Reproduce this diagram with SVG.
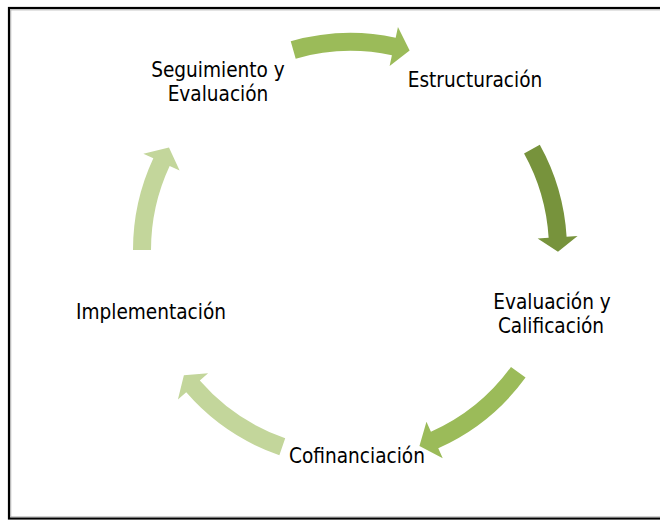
<svg xmlns="http://www.w3.org/2000/svg" width="660" height="521" viewBox="0 0 660 521">
<style>
.lbl{font-family:"DejaVu Sans Condensed","DejaVu Sans","Liberation Sans",sans-serif;font-stretch:condensed;font-size:20.6px;fill:#000;text-anchor:middle}
</style>
<rect x="0" y="0" width="660" height="521" fill="#fff"/>
<rect x="9" y="8" width="700" height="510.5" fill="none" stroke="#000" stroke-width="2.2"/>
<rect x="10.8" y="9.9" width="700" height="507" fill="none" stroke="#a0a0a0" stroke-width="0.8"/>
<g id="connectors">
<path id="a1" fill="#9bbb59" transform="rotate(-16 350 248)" d="M350,33 A217,217 0 0 1 451.88,58.40 L457.04,48.69 L461.76,74.57 L438.26,84.00 L443.42,74.29 A199,199 0 0 0 350,51 Z"/>
<path id="a2" fill="#77933c" transform="rotate(61 350 250)" d="M350,33 A217,217 0 0 1 443.42,54.14 L448.16,44.21 L452.42,68.97 L430.94,80.31 L435.67,70.38 A199,199 0 0 0 350,51 Z"/>
<path id="a3" fill="#9bbb59" transform="rotate(126 350 250)" d="M350,33 A217,217 0 0 1 458.5,62.07 L464,52.55 L467.81,78.58 L444,87.19 L449.5,77.66 A199,199 0 0 0 350,51 Z"/>
<path id="a4" fill="#c3d69b" transform="rotate(199 350 250)" d="M350,33 A217,217 0 0 1 458.5,62.07 L464,52.55 L466.31,77.56 L444,87.19 L449.5,77.66 A199,199 0 0 0 350,51 Z"/>
<path id="a5" fill="#c3d69b" transform="rotate(270 350 250)" d="M350,33 A217,217 0 0 1 441.71,53.33 L446.36,43.36 L452.42,68.97 L429.45,79.61 L434.10,69.64 A199,199 0 0 0 350,51 Z"/>
</g>
<g id="n1"><text class="lbl" x="218" y="77">Seguimiento y</text><text class="lbl" x="218" y="101">Evaluación</text></g>
<g id="n2"><text class="lbl" x="475" y="87">Estructuración</text></g>
<g id="n3"><text class="lbl" x="552" y="309">Evaluación y</text><text class="lbl" x="551" y="333">Calificación</text></g>
<g id="n4"><text class="lbl" x="357" y="463">Cofinanciación</text></g>
<g id="n5"><text class="lbl" x="151" y="319">Implementación</text></g>
</svg>
